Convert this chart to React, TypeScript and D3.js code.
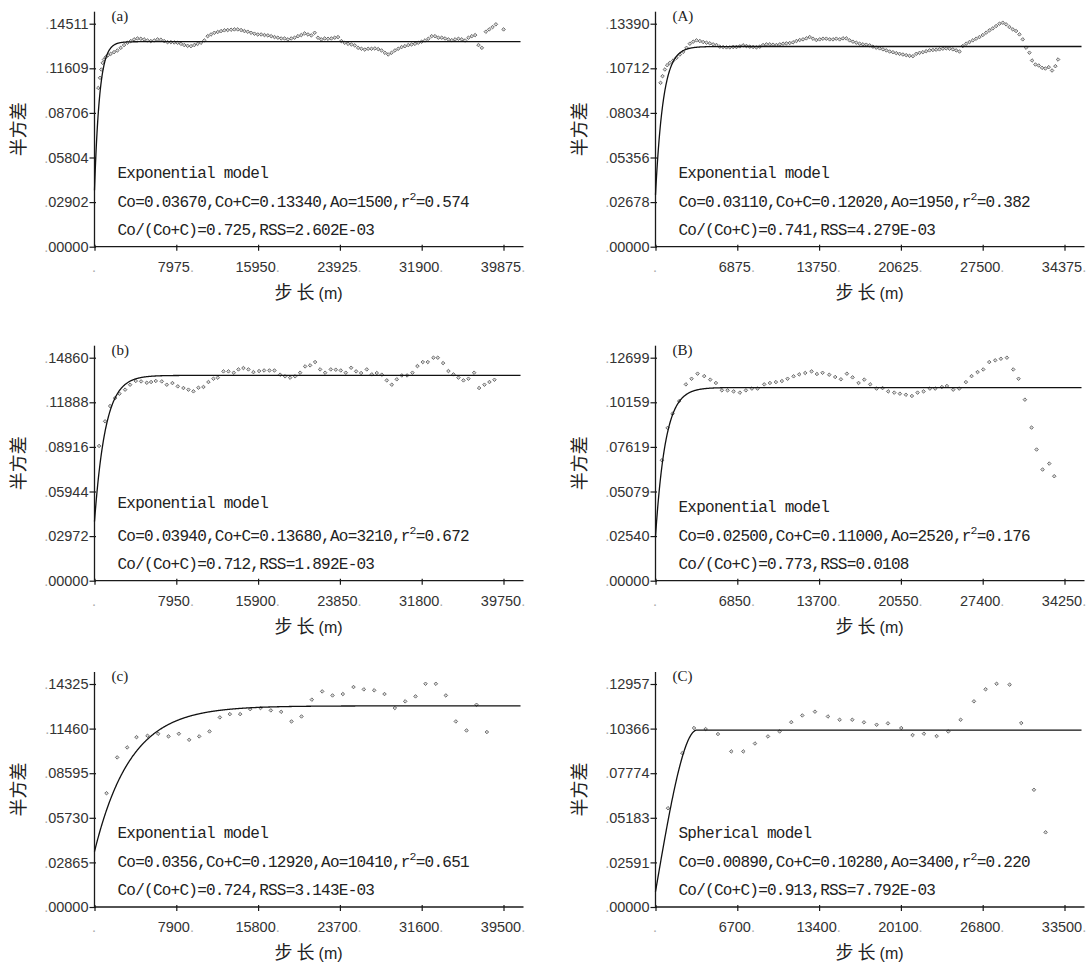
import React, { useEffect, useRef } from 'react';
import * as d3 from 'd3';

// semivariogram points [lag (m), semivariance]
const pts_a = [
  [372, 0.1033], [535, 0.1099], [665, 0.1153], [796, 0.1196], [926, 0.1218], [1089, 0.1233], [1317, 0.1246],
  [1578, 0.1255], [1904, 0.1266], [2230, 0.1277], [2556, 0.1294], [2882, 0.1312], [3208, 0.1327], [3534, 0.1338],
  [3860, 0.1349], [4186, 0.1355], [4512, 0.1353], [4838, 0.1349], [5164, 0.1342], [5490, 0.1338], [5816, 0.1342],
  [6142, 0.1349], [6468, 0.1347], [6794, 0.1338], [7120, 0.1331], [7446, 0.1331], [7772, 0.1329], [8098, 0.1327],
  [8424, 0.132], [8750, 0.1312], [9076, 0.1307], [9402, 0.1305], [9728, 0.1312], [10054, 0.132], [10380, 0.1327],
  [10706, 0.1342], [11032, 0.137], [11358, 0.1381], [11684, 0.1392], [12010, 0.1397], [12336, 0.1403], [12662, 0.1408],
  [12988, 0.141], [13314, 0.1412], [13640, 0.1414], [13966, 0.1414], [14292, 0.141], [14618, 0.1403], [14944, 0.1399],
  [15270, 0.1392], [15596, 0.1386], [15922, 0.1381], [16248, 0.1381], [16574, 0.1377], [16900, 0.1375], [17226, 0.137],
  [17552, 0.1364], [17878, 0.136], [18204, 0.1355], [18530, 0.1355], [18856, 0.1349], [19182, 0.1355], [19508, 0.136],
  [19834, 0.137], [20160, 0.1377], [20486, 0.1388], [20812, 0.1381], [21138, 0.1375], [21464, 0.1392], [21790, 0.136],
  [22116, 0.1349], [22442, 0.1355], [22768, 0.1353], [23094, 0.1355], [23420, 0.136], [23746, 0.1364], [24072, 0.1338],
  [24398, 0.1327], [24724, 0.132], [25050, 0.1316], [25376, 0.131], [25702, 0.1294], [26028, 0.1288], [26354, 0.1283],
  [26680, 0.1288], [27006, 0.1288], [27332, 0.129], [27658, 0.1286], [27984, 0.1277], [28310, 0.1262], [28636, 0.1251],
  [28962, 0.1262], [29288, 0.1277], [29614, 0.1288], [29940, 0.1299], [30266, 0.1305], [30592, 0.1312], [30918, 0.1316],
  [31244, 0.132], [31570, 0.1327], [31896, 0.1334], [32222, 0.1342], [32548, 0.1353], [32874, 0.137], [33200, 0.137],
  [33526, 0.136], [33852, 0.136], [34178, 0.1355], [34504, 0.1349], [34830, 0.1344], [35156, 0.1349], [35482, 0.1353],
  [35808, 0.1349], [36134, 0.1342], [36460, 0.136], [36786, 0.137], [37112, 0.1377], [37438, 0.1312], [37764, 0.1294],
  [38155, 0.1399], [38481, 0.1414], [38807, 0.1429], [39133, 0.1447], [39883, 0.1414],
];

const pts_A = [
  [424, 0.0984], [592, 0.1024], [788, 0.1064], [984, 0.109], [1207, 0.1104], [1487, 0.1118], [1767, 0.1134],
  [2047, 0.1154], [2327, 0.117], [2606, 0.1194], [2886, 0.1219], [3166, 0.1231], [3446, 0.1239], [3726, 0.1235],
  [4005, 0.1229], [4285, 0.1225], [4565, 0.1221], [4845, 0.1215], [5125, 0.1211], [5404, 0.1201], [5684, 0.1199],
  [5964, 0.1197], [6244, 0.1197], [6524, 0.1199], [6803, 0.1199], [7083, 0.1203], [7363, 0.1209], [7643, 0.1205],
  [7923, 0.1201], [8202, 0.1199], [8482, 0.1197], [8762, 0.1201], [9042, 0.1211], [9322, 0.1215], [9601, 0.1215],
  [9881, 0.1213], [10161, 0.1211], [10441, 0.1215], [10721, 0.1219], [11000, 0.1221], [11280, 0.1223], [11560, 0.1227],
  [11840, 0.1235], [12120, 0.1241], [12399, 0.1245], [12679, 0.1251], [12959, 0.1259], [13239, 0.1249], [13519, 0.1241],
  [13798, 0.1245], [14078, 0.1249], [14358, 0.1249], [14638, 0.1245], [14918, 0.1245], [15197, 0.1249], [15477, 0.1245],
  [15757, 0.1251], [16037, 0.1251], [16317, 0.1239], [16596, 0.1231], [16876, 0.1225], [17156, 0.1219], [17436, 0.1215],
  [17716, 0.1213], [17995, 0.1209], [18275, 0.1201], [18555, 0.1195], [18835, 0.1191], [19115, 0.1185], [19394, 0.1179],
  [19674, 0.1172], [19954, 0.1168], [20234, 0.1162], [20514, 0.1158], [20793, 0.1154], [21073, 0.115], [21353, 0.1146],
  [21633, 0.1144], [21913, 0.1158], [22192, 0.1164], [22472, 0.1168], [22752, 0.1174], [23032, 0.1179], [23312, 0.1181],
  [23591, 0.1183], [23871, 0.1185], [24151, 0.1189], [24431, 0.1191], [24711, 0.1189], [24990, 0.1185], [25270, 0.1179],
  [25550, 0.1172], [25830, 0.1205], [26110, 0.1219], [26389, 0.1229], [26669, 0.1239], [26949, 0.1249], [27229, 0.1259],
  [27509, 0.1271], [27788, 0.1285], [28068, 0.1299], [28348, 0.1311], [28628, 0.1325], [28908, 0.1339], [29187, 0.1345],
  [29467, 0.1335], [29747, 0.1319], [30027, 0.1305], [30307, 0.1295], [30586, 0.1275], [30866, 0.1245], [31146, 0.1195],
  [31426, 0.1165], [31650, 0.1118], [31929, 0.1094], [32209, 0.1088], [32489, 0.1074], [32769, 0.107], [33049, 0.1078],
  [33329, 0.1058], [33609, 0.1084], [33833, 0.1124],
];

const pts_b = [
  [447, 0.0898], [1030, 0.1062], [1516, 0.1164], [2002, 0.1217], [2423, 0.1246], [2974, 0.1273], [3460, 0.1306],
  [4011, 0.1331], [4529, 0.1328], [5080, 0.1319], [5501, 0.1324], [5955, 0.1331], [6538, 0.1328], [7024, 0.1306],
  [7574, 0.1317], [8093, 0.1295], [8643, 0.1284], [9129, 0.1273], [9615, 0.1262], [10101, 0.1286], [10587, 0.1291],
  [11073, 0.1324], [11559, 0.1346], [11980, 0.1353], [12531, 0.1395], [13017, 0.1395], [13535, 0.1386], [13989, 0.1408],
  [14475, 0.1417], [14961, 0.1408], [15447, 0.139], [15997, 0.1397], [16483, 0.1401], [17002, 0.1401], [17488, 0.1401],
  [18039, 0.1373], [18525, 0.1362], [19011, 0.1353], [19497, 0.1362], [19983, 0.1386], [20469, 0.1428], [20955, 0.1435],
  [21441, 0.1457], [21927, 0.1408], [22413, 0.1386], [22963, 0.1408], [23449, 0.1406], [23935, 0.1401], [24421, 0.1386],
  [24940, 0.1419], [25426, 0.1395], [25912, 0.1384], [26462, 0.1408], [26948, 0.1375], [27434, 0.1384], [27920, 0.1373],
  [28406, 0.1335], [28892, 0.1306], [29378, 0.1342], [29864, 0.1368], [30382, 0.1368], [30900, 0.1386], [31386, 0.143],
  [31905, 0.1457], [32391, 0.1457], [32941, 0.1486], [33363, 0.1486], [33881, 0.145], [34399, 0.1397], [34885, 0.1375],
  [35371, 0.1353], [35857, 0.1335], [36343, 0.1346], [36894, 0.1386], [37380, 0.1284], [37898, 0.1306], [38384, 0.1324],
  [38870, 0.1339],
];

const pts_B = [
  [536, 0.0686], [1011, 0.087], [1429, 0.0951], [1987, 0.1023], [2546, 0.1118], [3020, 0.115], [3523, 0.1179],
  [4081, 0.1165], [4583, 0.1145], [5058, 0.1126], [5560, 0.1084], [6035, 0.1084], [6538, 0.1078], [7068, 0.1071],
  [7570, 0.1084], [8072, 0.1094], [8547, 0.1094], [9105, 0.1118], [9580, 0.1126], [10082, 0.1131], [10585, 0.1137],
  [11060, 0.115], [11562, 0.1164], [12036, 0.1175], [12539, 0.1183], [13069, 0.1192], [13516, 0.1177], [13990, 0.1184],
  [14549, 0.1173], [15051, 0.116], [15526, 0.1147], [16028, 0.1179], [16503, 0.1158], [17005, 0.1126], [17480, 0.1145],
  [17982, 0.1118], [18512, 0.1094], [19015, 0.1097], [19489, 0.1078], [19992, 0.1071], [20466, 0.1065], [20969, 0.1059],
  [21471, 0.1052], [21946, 0.1071], [22448, 0.1078], [22978, 0.1094], [23425, 0.1094], [23983, 0.1103], [24402, 0.1109],
  [24932, 0.1088], [25435, 0.1094], [25993, 0.1131], [26468, 0.1165], [26970, 0.1188], [27445, 0.1203], [27948, 0.1245],
  [28450, 0.1255], [28924, 0.1264], [29427, 0.127], [29957, 0.1203], [30404, 0.115], [30934, 0.1031], [31492, 0.0872],
  [31911, 0.0747], [32414, 0.0633], [32972, 0.0667], [33391, 0.0595],
];

const pts_c = [
  [1159, 0.0731], [2189, 0.0961], [3155, 0.1025], [4056, 0.1091], [5119, 0.11], [6149, 0.1113], [7147, 0.1096],
  [8145, 0.1113], [9143, 0.1074], [10109, 0.1096], [11107, 0.1128], [12105, 0.1218], [13070, 0.1239], [14069, 0.1239],
  [15035, 0.1271], [16032, 0.1278], [17030, 0.1263], [18028, 0.1254], [19026, 0.1192], [19992, 0.1224], [20990, 0.1332],
  [21988, 0.1385], [22986, 0.1359], [23984, 0.1368], [25014, 0.1413], [26012, 0.1398], [27010, 0.1392], [28008, 0.1368],
  [29006, 0.1278], [30004, 0.1321], [31002, 0.1353], [31968, 0.1434], [32966, 0.1434], [33932, 0.1359], [34897, 0.1192],
  [35928, 0.1134], [36894, 0.1299], [37892, 0.1124],
];

const pts_C = [
  [1021, 0.0574], [2195, 0.0894], [3151, 0.104], [4106, 0.1034], [5116, 0.1005], [6208, 0.0904], [7191, 0.0904],
  [8147, 0.095], [9211, 0.0991], [10167, 0.102], [11122, 0.1074], [12023, 0.1113], [13061, 0.1135], [14125, 0.1107],
  [15081, 0.1088], [16118, 0.1088], [17074, 0.1073], [18111, 0.1059], [19039, 0.1067], [20131, 0.104], [21059, 0.0999],
  [21988, 0.1007], [23025, 0.0993], [23981, 0.102], [24991, 0.1088], [26083, 0.1195], [27038, 0.1265], [27939, 0.1297],
  [29004, 0.1292], [29959, 0.1069], [30997, 0.0681], [31952, 0.0434],
];

// axis tick labels
const xTicks_a = ['.', '7975.', '15950.', '23925.', '31900.', '39875.'];
const xTicks_A = ['.', '6875.', '13750.', '20625.', '27500.', '34375.'];
const xTicks_b = ['.', '7950.', '15900.', '23850.', '31800.', '39750.'];
const xTicks_B = ['.', '6850.', '13700.', '20550.', '27400.', '34250.'];
const xTicks_c = ['.', '7900.', '15800.', '23700.', '31600.', '39500.'];
const xTicks_C = ['.', '6700.', '13400.', '20100.', '26800.', '33500.'];

const yTicks_a = ['.00000', '.02902', '.05804', '.08706', '.11609', '.14511'];
const yTicks_A = ['.00000', '.02678', '.05356', '.08034', '.10712', '.13390'];
const yTicks_b = ['.00000', '.02972', '.05944', '.08916', '.11888', '.14860'];
const yTicks_B = ['.00000', '.02540', '.05079', '.07619', '.10159', '.12699'];
const yTicks_c = ['.00000', '.02865', '.05730', '.08595', '.11460', '.14325'];
const yTicks_C = ['.00000', '.02591', '.05183', '.07774', '.10366', '.12957'];

// fitted model parameters: [Co, Co+C, Ao]
const fit_a = [0.0367, 0.1334, 1500];
const fit_A = [0.0311, 0.1202, 1950];
const fit_b = [0.0394, 0.1368, 3210];
const fit_B = [0.025, 0.11, 2520];
const fit_c = [0.0356, 0.1292, 10410];
const fit_C = [0.0089, 0.1028, 3400];

const panels = [
  { label: '(a)', col: 0, row: 0, pts: pts_a, xMax: 39875, xTicks: xTicks_a, yMax: 0.14511, yTicks: yTicks_a, fit: fit_a, model: 'Exponential model',
    line2: 'Co=0.03670,Co+C=0.13340,Ao=1500,r', r2: '0.574', line3: 'Co/(Co+C)=0.725,RSS=2.602E-03' },
  { label: '(A)', col: 1, row: 0, pts: pts_A, xMax: 34375, xTicks: xTicks_A, yMax: 0.1339, yTicks: yTicks_A, fit: fit_A, model: 'Exponential model',
    line2: 'Co=0.03110,Co+C=0.12020,Ao=1950,r', r2: '0.382', line3: 'Co/(Co+C)=0.741,RSS=4.279E-03' },
  { label: '(b)', col: 0, row: 1, pts: pts_b, xMax: 39750, xTicks: xTicks_b, yMax: 0.1486, yTicks: yTicks_b, fit: fit_b, model: 'Exponential model',
    line2: 'Co=0.03940,Co+C=0.13680,Ao=3210,r', r2: '0.672', line3: 'Co/(Co+C)=0.712,RSS=1.892E-03' },
  { label: '(B)', col: 1, row: 1, pts: pts_B, xMax: 34250, xTicks: xTicks_B, yMax: 0.12699, yTicks: yTicks_B, fit: fit_B, model: 'Exponential model',
    line2: 'Co=0.02500,Co+C=0.11000,Ao=2520,r', r2: '0.176', line3: 'Co/(Co+C)=0.773,RSS=0.0108' },
  { label: '(c)', col: 0, row: 2, pts: pts_c, xMax: 39500, xTicks: xTicks_c, yMax: 0.14325, yTicks: yTicks_c, fit: fit_c, model: 'Exponential model',
    line2: 'Co=0.0356,Co+C=0.12920,Ao=10410,r', r2: '0.651', line3: 'Co/(Co+C)=0.724,RSS=3.143E-03' },
  { label: '(C)', col: 1, row: 2, pts: pts_C, xMax: 33500, xTicks: xTicks_C, yMax: 0.12957, yTicks: yTicks_C, fit: fit_C, model: 'Spherical model',
    line2: 'Co=0.00890,Co+C=0.10280,Ao=3400,r', r2: '0.220', line3: 'Co/(Co+C)=0.913,RSS=7.792E-03' },
];

const colX = [94.5, 655.5];
const rowY = [246.7, 580.7, 907];
const plotW = 409;
const plotH = 223;
const sans = 'Liberation Sans, Arial, sans-serif';
const mono = 'Liberation Mono, DejaVu Sans Mono, monospace';
const cjk = 'Noto Sans CJK SC, sans-serif';

function modelValue(kind: string, fit: number[], h: number) {
  const [co, sill, ao] = fit;
  if (kind.startsWith('Spherical')) {
    if (h >= ao) return sill;
    const r = h / ao;
    return co + (sill - co) * (1.5 * r - 0.5 * r * r * r);
  }
  return co + (sill - co) * (1 - Math.exp((-3 * h) / ao));
}

export default function App() {
  const node = useRef<HTMLDivElement>(null);

  useEffect(() => {
    document.body.style.margin = '0';
    const root = d3.select(node.current);
    root.selectAll('*').remove();
    const svg = root
      .append('svg')
      .attr('width', 1092)
      .attr('height', 963)
      .style('display', 'block')
      .style('background', '#fff');

    panels.forEach(p => {
      const ax = colX[p.col];
      const y0 = rowY[p.row];
      const x = d3.scaleLinear().domain([0, p.xMax]).range([ax, ax + plotW]);
      const y = d3.scaleLinear().domain([0, p.yMax]).range([y0, y0 - plotH]);
      const g = svg.append('g');

      // y axis
      const yAxis = d3
        .axisLeft(y)
        .tickValues(p.yTicks.map((_, i) => (p.yMax * i) / 5))
        .tickFormat((_, i) => p.yTicks[i])
        .tickSize(5)
        .tickPadding(1);
      const yg = g
        .append('g')
        .attr('transform', `translate(${ax},0)`)
        .call(yAxis)
        .attr('font-size', 14.5)
        .attr('font-family', sans)
        .attr('color', '#1a1a1a');
      yg.select('.domain').remove();
      yg.selectAll('.tick line').attr('x1', 1.5).attr('stroke-width', 1.2);
      yg.selectAll<SVGTextElement, unknown>('.tick text').each(function () {
        const t = d3.select(this);
        const s = t.text();
        t.text(null).attr('fill', '#333');
        t.append('tspan').attr('fill', '#aaa').text('.');
        t.append('tspan').text(s.slice(1));
      });

      // x axis
      const xAxis = d3
        .axisBottom(x)
        .tickValues(p.xTicks.map((_, i) => (p.xMax * i) / 5))
        .tickFormat((_, i) => p.xTicks[i])
        .tickSize(4);
      const xg = g
        .append('g')
        .attr('transform', `translate(0,${y0})`)
        .call(xAxis)
        .attr('font-size', 14.5)
        .attr('font-family', sans)
        .attr('color', '#1a1a1a');
      xg.select('.domain').remove();
      xg.selectAll('.tick line').attr('y1', -2).attr('stroke-width', 1.2);
      xg.selectAll<SVGTextElement, unknown>('.tick text').each(function () {
        const t = d3.select(this);
        const s = t.text();
        t.text(null).attr('fill', '#333').attr('y', 25).attr('dy', null).attr('dx', -1);
        if (s.length > 1) t.append('tspan').text(s.slice(0, -1));
        t.append('tspan').attr('fill', '#aaa').text('.');
      });

      // axis lines
      g.append('line')
        .attr('x1', ax).attr('x2', ax)
        .attr('y1', y0).attr('y2', y0 - plotH - 12)
        .attr('stroke', '#1a1a1a').attr('stroke-width', 1.3);
      g.append('line')
        .attr('x1', ax).attr('x2', ax + plotW + 20)
        .attr('y1', y0).attr('y2', y0)
        .attr('stroke', '#1a1a1a').attr('stroke-width', 1.3);

      // experimental points
      const sym = d3.symbol().type(d3.symbolDiamond2).size(8);
      g.append('g')
        .selectAll('path')
        .data(p.pts)
        .enter()
        .append('path')
        .attr('transform', d => `translate(${x(d[0])},${y(d[1])})`)
        .attr('d', sym)
        .attr('fill', '#d8d8d8')
        .attr('stroke', '#606060')
        .attr('stroke-width', 0.9);

      // fitted model
      const hMax = p.xMax * 1.0416;
      const hs = d3.range(0, 1201).map(i => (i / 1200) * hMax);
      const line = d3
        .line<number>()
        .x(h => x(h))
        .y(h => y(modelValue(p.model, p.fit, h)));
      g.append('path')
        .attr('d', line(hs))
        .attr('fill', 'none')
        .attr('stroke', '#111')
        .attr('stroke-width', 1.3);

      // panel label
      g.append('text')
        .attr('x', ax + 17)
        .attr('y', y0 - plotH - 3)
        .attr('font-family', 'Liberation Serif, serif')
        .attr('font-size', 15)
        .attr('fill', '#222')
        .text(p.label);

      // model annotation
      const tx = ax + 23;
      const txt = g.append('g')
        .attr('font-family', mono)
        .attr('font-size', 16)
        .attr('letter-spacing', '-0.75px')
        .attr('fill', '#222');
      txt.append('text').attr('x', tx).attr('y', y0 - (p.row === 1 && p.col === 0 ? 73 : 69)).text(p.model);
      const t2 = txt.append('text').attr('x', tx).attr('y', y0 - 40);
      t2.append('tspan').text(p.line2);
      t2.append('tspan').attr('dy', -7).attr('font-size', 11.5).text('2');
      t2.append('tspan').attr('dy', 7).text('=' + p.r2);
      txt.append('text').attr('x', tx).attr('y', y0 - 12).text(p.line3);

      // axis titles
      g.append('text')
        .attr('transform', `translate(${ax - 78},${y0 - (plotH + 12) / 2}) rotate(-90)`)
        .attr('text-anchor', 'middle')
        .attr('dominant-baseline', 'central')
        .attr('font-family', cjk)
        .attr('font-size', 18)
        .attr('fill', '#222')
        .text('半方差');
      const xt = g.append('text')
        .attr('x', ax + 214)
        .attr('y', y0 + 52)
        .attr('text-anchor', 'middle')
        .attr('fill', '#222');
      xt.append('tspan').attr('font-family', cjk).attr('font-size', 18).text('步 长 ');
      xt.append('tspan').attr('font-family', sans).attr('font-size', 16).text('(m)');
    });
  }, []);

  return <div ref={node} style={{ position: 'absolute', left: 0, top: 0 }} />;
}
